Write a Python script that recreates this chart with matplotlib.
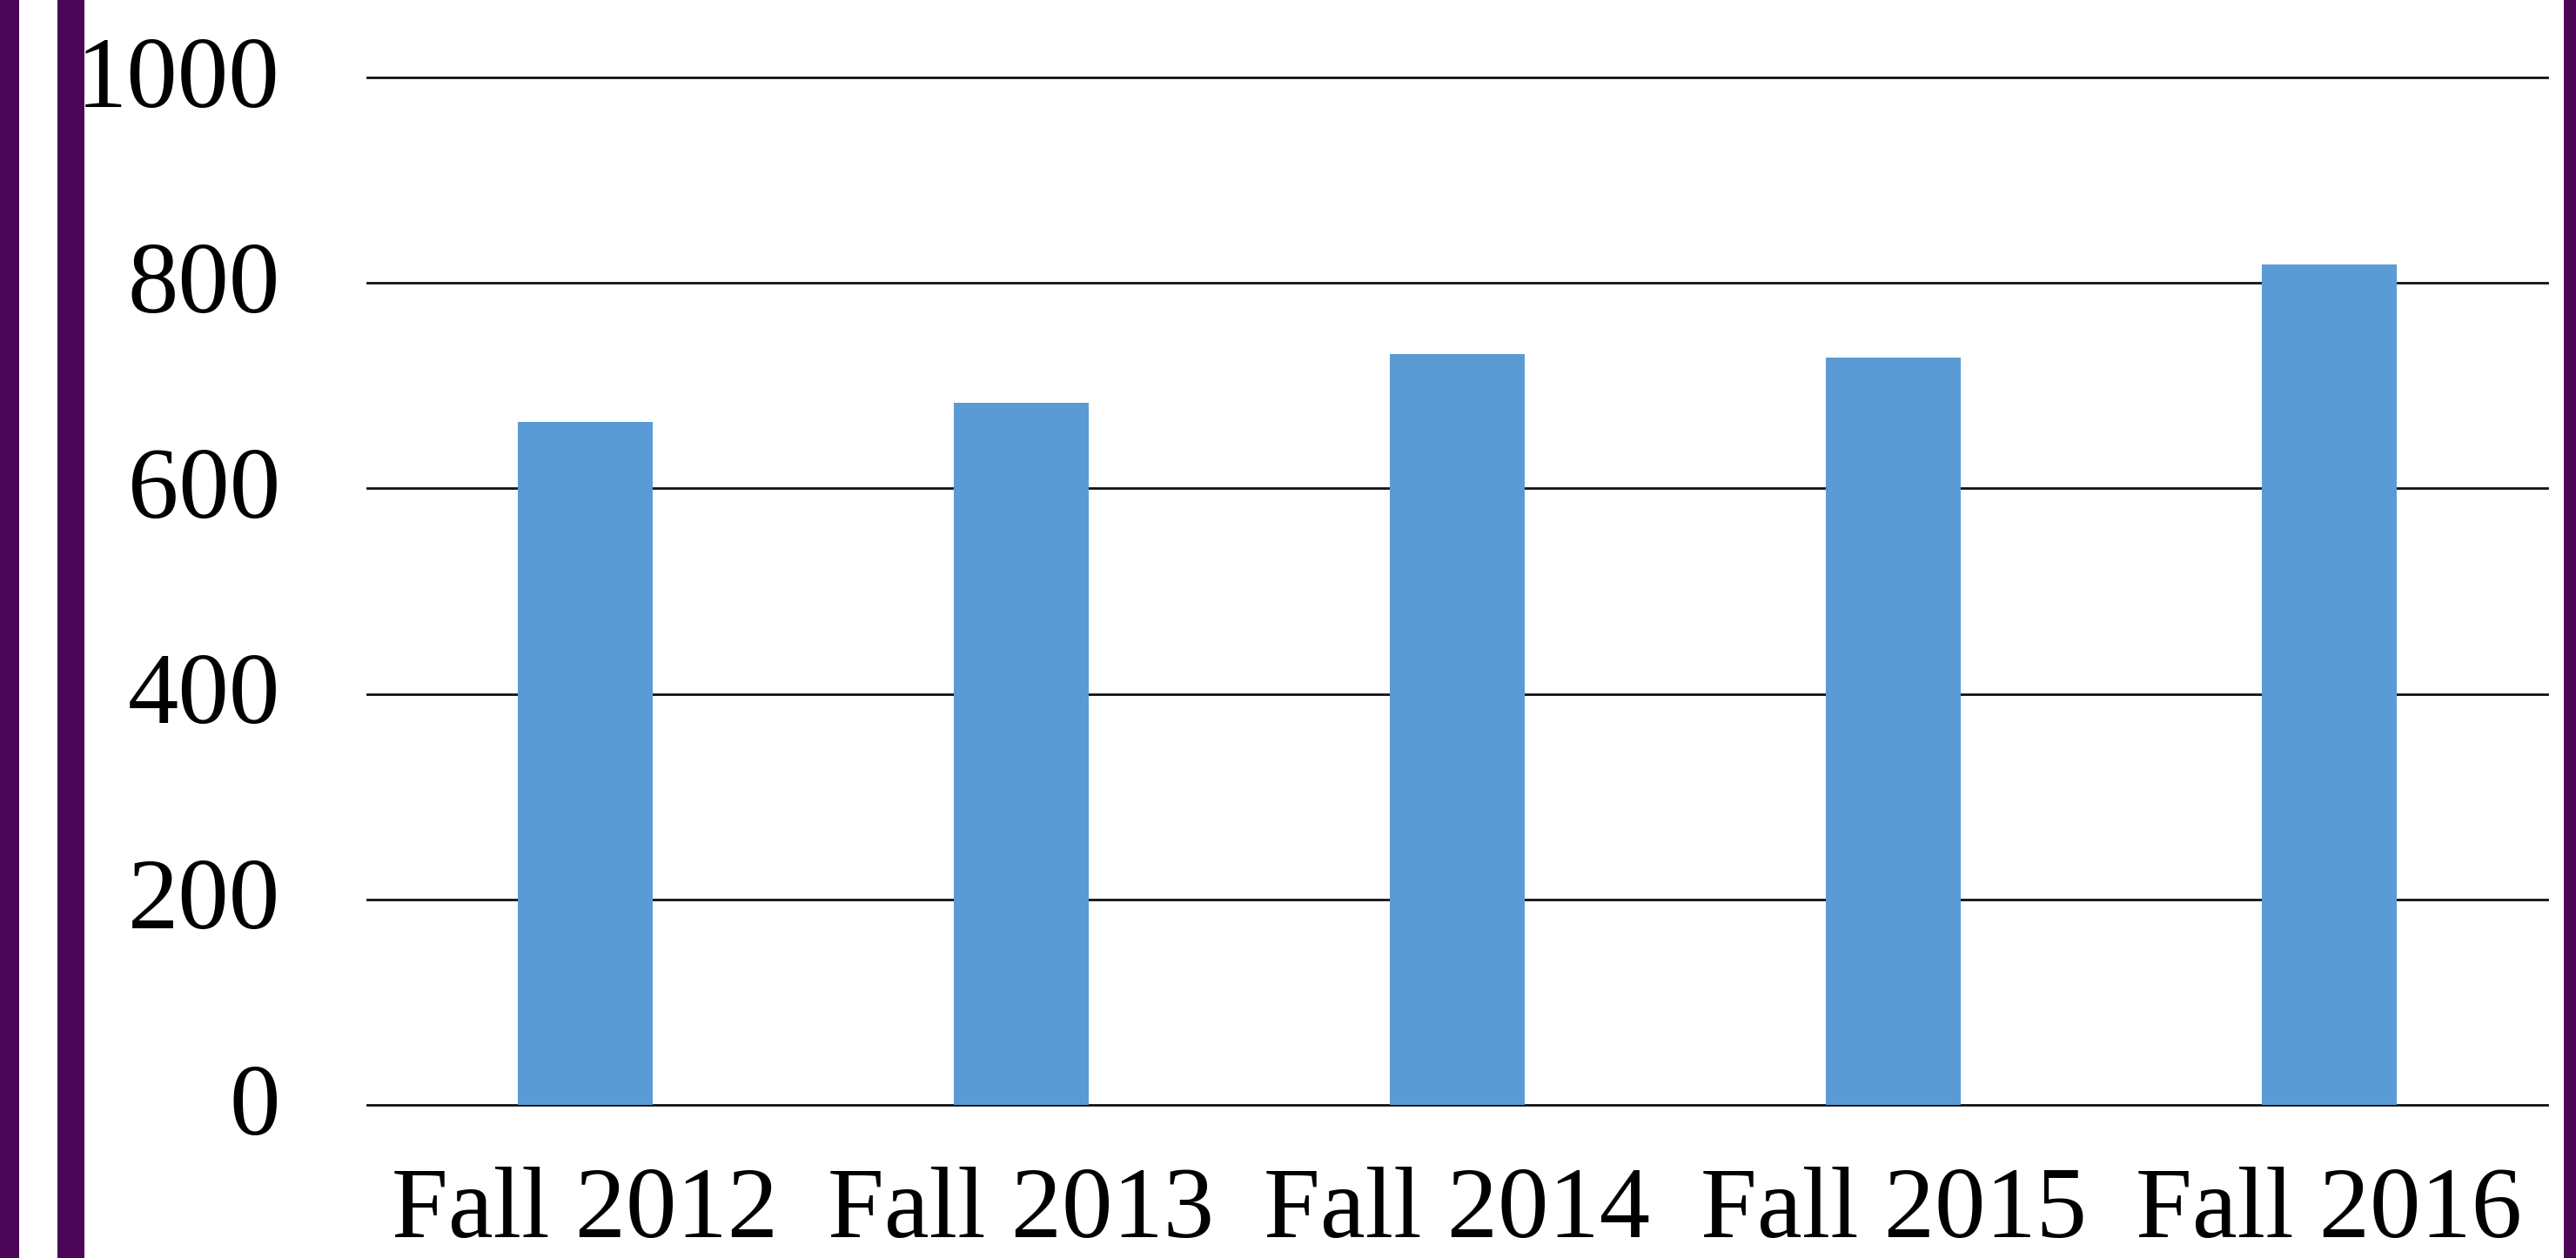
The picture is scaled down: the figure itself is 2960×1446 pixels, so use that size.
import matplotlib
matplotlib.use("Agg")
import matplotlib.pyplot as plt
from matplotlib.patches import Rectangle
from matplotlib.transforms import ScaledTranslation

categories = ["Fall 2012", "Fall 2013", "Fall 2014", "Fall 2015", "Fall 2016"]
values = [665, 683, 731, 727, 818]
yticks = [0, 200, 400, 600, 800, 1000]

W, H = 2960, 1446
DPI = 100
plt.rcParams['font.family'] = ['Liberation Serif', 'DejaVu Serif']

fig = plt.figure(figsize=(W / DPI, H / DPI), dpi=DPI)
fig.patch.set_facecolor('white')

# axes geometry in pixels
x0, x1 = 422, 2927
y_zero, y_top = 1270, 89
ymax = 1050
px_per_unit = (y_zero - y_top) / 1000.0
ax_h = px_per_unit * ymax
ax = fig.add_axes([x0 / W, (H - y_zero) / H, (x1 - x0) / W, ax_h / H])

xs = list(range(len(categories)))
ax.bar(xs, values, width=0.31, color='#5B9BD5', zorder=3)
ax.set_xlim(-0.5, len(categories) - 0.5)
ax.set_ylim(0, ymax)
ax.set_yticks(yticks)
ax.set_yticklabels([str(v) for v in yticks])
ax.set_xticks(xs)
ax.set_xticklabels(categories)

for s in ax.spines.values():
    s.set_visible(False)
ax.yaxis.grid(True, color='#111111', linewidth=2.0, zorder=1)
ax.set_axisbelow(True)
for gl in ax.get_ygridlines():
    gl.set_clip_on(False)
ax.tick_params(axis='both', length=0, labelsize=84, colors='black')
ax.tick_params(axis='y', pad=72)
ax.tick_params(axis='x', pad=51)

shift = ScaledTranslation(0, 5 / 72, fig.dpi_scale_trans)
for lbl in ax.get_yticklabels():
    lbl.set_transform(lbl.get_transform() + shift)

purple = '#4C0658'
for (px, pw) in [(0, 22), (66, 31), (2946, 14)]:
    fig.add_artist(Rectangle((px / W, 0), pw / W, 1, transform=fig.transFigure,
                             facecolor=purple, edgecolor='none', zorder=10))

fig.savefig('out.png', dpi=DPI)
